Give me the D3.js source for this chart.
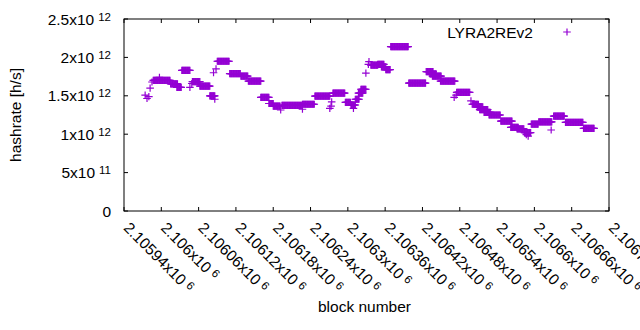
<!DOCTYPE html>
<html>
<head>
<meta charset="utf-8">
<script src="https://cdn.jsdelivr.net/npm/d3@7"></script>
<style>
body { margin: 0; background: #fff; }
text { font-family: "Liberation Sans", Arial, sans-serif; fill: #000; }
</style>
</head>
<body>
<div id="chart"></div>
<script>
const seriesName = 'LYRA2REv2';

// runs of consecutive blocks sharing one hashrate value (first block, last block, h/s)
const runFirst = [2105974, 2105977, 2105980, 2105982, 2105985, 2105987, 2105997, 2106015, 2106025, 2106033,
    2106046, 2106049, 2106050, 2106062, 2106078, 2106086, 2106084, 2106088, 2106090, 2106110,
    2106128, 2106140, 2106160, 2106173, 2106180, 2106192, 2106194, 2106227, 2106227, 2106247,
    2106271, 2106273, 2106274, 2106276, 2106296, 2106305, 2106309, 2106312, 2106317, 2106321,
    2106329, 2106333, 2106334, 2106337, 2106348, 2106354, 2106361, 2106369, 2106398, 2106426,
    2106432, 2106436, 2106449, 2106471, 2106474, 2106475, 2106498, 2106500, 2106508, 2106512,
    2106519, 2106527, 2106546, 2106562, 2106572, 2106584, 2106587, 2106590, 2106595, 2106607,
    2106627, 2106631, 2106650, 2106679];
const runLast = [2105974, 2105977, 2105980, 2105982, 2105985, 2106014, 2105997, 2106026, 2106032, 2106046,
    2106046, 2106049, 2106062, 2106078, 2106086, 2106086, 2106084, 2106088, 2106109, 2106127,
    2106139, 2106160, 2106173, 2106180, 2106191, 2106192, 2106226, 2106227, 2106246, 2106271,
    2106271, 2106273, 2106274, 2106295, 2106304, 2106312, 2106309, 2106318, 2106324, 2106329,
    2106329, 2106333, 2106334, 2106348, 2106358, 2106361, 2106368, 2106397, 2106425, 2106437,
    2106442, 2106450, 2106472, 2106471, 2106474, 2106496, 2106498, 2106510, 2106517, 2106525,
    2106529, 2106545, 2106564, 2106574, 2106583, 2106594, 2106587, 2106590, 2106606, 2106628,
    2106627, 2106648, 2106678, 2106696];
const runHash = [1.51e12, 1.465e12, 1.49e12, 1.60e12, 1.68e12, 1.70e12, 1.74e12, 1.655e12, 1.61e12, 1.83e12,
    1.61e12, 1.66e12, 1.685e12, 1.625e12, 1.50e12, 1.455e12, 1.80e12, 1.85e12, 1.95e12, 1.79e12,
    1.755e12, 1.69e12, 1.48e12, 1.40e12, 1.365e12, 1.315e12, 1.375e12, 1.325e12, 1.39e12, 1.495e12,
    1.335e12, 1.365e12, 1.42e12, 1.535e12, 1.415e12, 1.38e12, 1.335e12, 1.455e12, 1.535e12, 1.585e12,
    1.795e12, 1.91e12, 1.945e12, 1.90e12, 1.91e12, 1.875e12, 1.84e12, 2.14e12, 1.665e12, 1.815e12,
    1.785e12, 1.755e12, 1.69e12, 1.48e12, 1.51e12, 1.545e12, 1.435e12, 1.39e12, 1.355e12, 1.32e12,
    1.285e12, 1.25e12, 1.17e12, 1.09e12, 1.07e12, 1.02e12, 0.995e12, 0.975e12, 1.13e12, 1.16e12,
    1.055e12, 1.235e12, 1.155e12, 1.075e12];

const xTickValues = [2105940, 2106000, 2106060, 2106120, 2106180, 2106240, 2106300,
    2106360, 2106420, 2106480, 2106540, 2106600, 2106660, 2106720];
const yTickValues = [0, 5e11, 1e12, 1.5e12, 2e12, 2.5e12];

const margin = { top: 19, right: 31, bottom: 119, left: 124 };
const W = 640, H = 330;
const width = W - margin.left - margin.right;
const height = H - margin.top - margin.bottom;
const color = '#9400d3';

const svg = d3.select('#chart').append('svg')
    .attr('width', W)
    .attr('height', H)
    .append('g')
    .attr('transform', `translate(${margin.left}, ${margin.top})`);

const x = d3.scaleLinear().domain([2105940, 2106720]).range([0, width]);
const y = d3.scaleLinear().domain([0, 2.5e12]).range([height, 0]);

// split a value into mantissa and power of ten, gnuplot style
function sci(v, digits) {
    if (v === 0) return null;
    const e = Math.floor(Math.log10(v) + 1e-9);
    const m = +(v / Math.pow(10, e)).toFixed(digits);
    return { m: String(m), e: String(e) };
}

const pts = [];
runFirst.forEach((b0, i) => {
    for (let b = b0; b <= runLast[i]; b++) pts.push({ block: b, hash: runHash[i] });
});

const plus = 'M-3.8,0H3.8M0,-3.6V3.6';

svg.append('g')
    .selectAll('path')
    .data(pts)
    .enter()
    .append('path')
    .attr('d', plus)
    .attr('transform', (d) => `translate(${x(d.block)},${y(d.hash)})`)
    .attr('stroke', color)
    .attr('stroke-width', 1.2)
    .attr('fill', 'none');

// ticks on all four sides, pointing inward
const tl = 4;
const tickG = svg.append('g').attr('stroke', '#000').attr('stroke-width', 1);
xTickValues.forEach((v) => {
    tickG.append('line').attr('x1', x(v)).attr('x2', x(v)).attr('y1', height).attr('y2', height - tl);
    tickG.append('line').attr('x1', x(v)).attr('x2', x(v)).attr('y1', 0).attr('y2', tl);
});
yTickValues.forEach((v) => {
    tickG.append('line').attr('x1', 0).attr('x2', tl).attr('y1', y(v)).attr('y2', y(v));
    tickG.append('line').attr('x1', width).attr('x2', width - tl).attr('y1', y(v)).attr('y2', y(v));
});

svg.append('rect')
    .attr('width', width)
    .attr('height', height)
    .attr('fill', 'none')
    .attr('stroke', '#000')
    .attr('stroke-width', 1);

// y tick labels
const fs = 15.5;
yTickValues.forEach((v) => {
    const t = svg.append('text')
        .attr('x', -13)
        .attr('y', y(v) + 5.5)
        .attr('text-anchor', 'end')
        .style('font-size', `${fs}px`);
    const s = sci(v, 1);
    if (!s) { t.text('0'); return; }
    t.append('tspan').text(`${s.m}x10`);
    t.append('tspan')
        .attr('dx', 4)
        .attr('dy', -4)
        .style('font-size', '11.5px')
        .text(s.e);
});

// x tick labels, rotated
xTickValues.forEach((v) => {
    const s = sci(v, 5);
    const t = svg.append('text')
        .attr('transform', `translate(${x(v) + 2.5},${height + 14}) rotate(45)`)
        .attr('dy', '0.35em')
        .style('font-size', `${fs}px`);
    t.append('tspan').text(`${s.m}x10`);
    t.append('tspan')
        .attr('dx', 4)
        .attr('dy', -4)
        .style('font-size', '11.5px')
        .text(s.e);
});

svg.append('text')
    .attr('transform', `translate(${-103},${height / 2}) rotate(-90)`)
    .attr('text-anchor', 'middle')
    .style('font-size', `${fs}px`)
    .text('hashrate [h/s]');

svg.append('text')
    .attr('x', width / 2 - 2)
    .attr('y', H - margin.top - 18)
    .attr('text-anchor', 'middle')
    .style('font-size', `${fs}px`)
    .text('block number');

// legend
const leg = svg.append('g').attr('transform', `translate(${533 - margin.left},${32 - margin.top})`);
leg.append('text')
    .attr('y', 5.5)
    .attr('text-anchor', 'end')
    .style('font-size', `${fs}px`)
    .text(seriesName);
leg.append('path')
    .attr('d', plus)
    .attr('transform', 'translate(34,0)')
    .attr('stroke', color)
    .attr('stroke-width', 1.2)
    .attr('fill', 'none');
</script>
</body>
</html>
